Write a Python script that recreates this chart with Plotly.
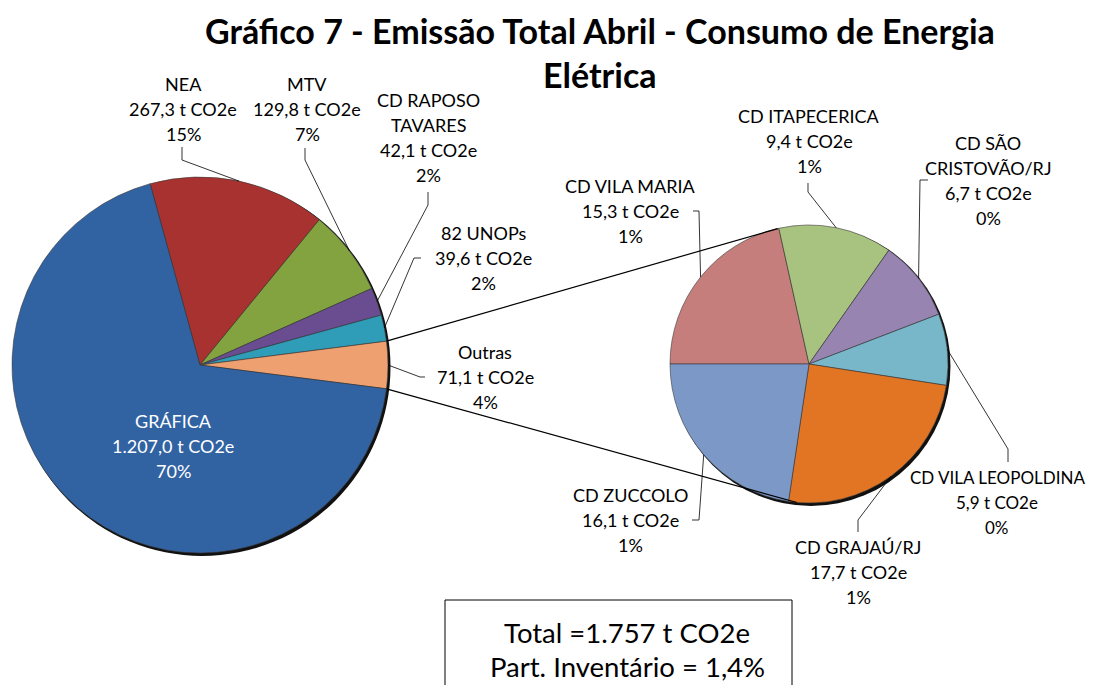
import math
import plotly.graph_objects as go

W, H = 1096, 693
OFF = 8  # page body margin
FW, FH = W - 2 * OFF, H - 2 * OFF  # figure fits the window exactly

# ---------------- data ----------------
main_labels = ["NEA", "MTV", "CD RAPOSO<br>TAVARES", "82 UNOPs", "Outras", "GRÁFICA"]
main_values = [267.3, 129.8, 42.1, 39.6, 71.1, 1207.0]
main_pcts = ["15%", "7%", "2%", "2%", "4%", "70%"]

sec_labels = ["CD VILA MARIA", "CD ITAPECERICA", "CD SÃO<br>CRISTOVÃO/RJ",
              "CD VILA LEOPOLDINA", "CD GRAJAÚ/RJ", "CD ZUCCOLO"]
sec_values = [15.3, 9.4, 6.7, 5.9, 17.7, 16.1]
sec_pcts = ["1%", "1%", "0%", "0%", "1%", "1%"]

participacao = "1,4%"

# ---------------- styles ----------------
main_colors = ["#A83230", "#82A33F", "#6A4D90", "#2F9CB8", "#EEA070", "#3163A3"]
sec_colors = ["#C67E7C", "#A8C27F", "#9884B0", "#78B6C9", "#E27524", "#7C98C6"]

FONT = "Lato, 'DejaVu Sans', sans-serif"
LBL_SIZE = 18
LINE_GAP = 25

# pie geometry in (screen) pixels
MC = (200, 365); MR = 188
SC = (809, 364); SR = 139


def X(px):
    return (px - OFF) / FW


def Y(py):
    return 1 - (py - OFF) / FH


def fmt_br(v, dec=1):
    s = f"{v:,.{dec}f}"
    return s.replace(",", "#").replace(".", ",").replace("#", ".")


def domain(c, r):
    return dict(x=[X(c[0] - r), X(c[0] + r)], y=[Y(c[1] + r), Y(c[1] - r)])


def pt(c, r, ang):
    a = math.radians(ang)
    return (c[0] + r * math.sin(a), c[1] - r * math.cos(a))


main_total = sum(main_values)
oi = 4  # index of "Outras"
before = sum(main_values[:oi])
main_rot = 90 - (before + main_values[oi] / 2) / main_total * 360
sec_rot = 270


def slice_angles(values, rot):
    tot = sum(values)
    out = []
    cur = rot
    for v in values:
        span = v / tot * 360
        out.append((cur, cur + span))
        cur += span
    return out


main_ang = slice_angles(main_values, main_rot)
sec_ang = slice_angles(sec_values, sec_rot)

fig = go.Figure()

fig.add_trace(go.Pie(
    labels=[l.replace("<br>", " ") for l in main_labels], values=main_values,
    sort=False, direction="clockwise", rotation=main_rot,
    marker=dict(colors=main_colors, line=dict(color="#3a3a3a", width=0.6)),
    textinfo="none", domain=domain(MC, MR), showlegend=False, hoverinfo="label+value+percent",
))
fig.add_trace(go.Pie(
    labels=[l.replace("<br>", " ") for l in sec_labels], values=sec_values,
    sort=False, direction="clockwise", rotation=sec_rot,
    marker=dict(colors=sec_colors, line=dict(color="#3a3a3a", width=0.6)),
    textinfo="none", domain=domain(SC, SR), showlegend=False, hoverinfo="label+value+percent",
))

shapes = []
# shadows behind pies
for c, r in [(MC, MR), (SC, SR)]:
    shapes.append(dict(type="circle", xref="paper", yref="paper", layer="below",
                       x0=X(c[0] - r + 1.5), x1=X(c[0] + r + 2.5),
                       y0=Y(c[1] + r + 3), y1=Y(c[1] - r + 1),
                       fillcolor="#111111", line=dict(width=0)))

# connector lines between the pies
o_start, o_end = main_ang[oi]
p1 = pt(MC, MR, o_start)
p2 = pt(MC, MR, o_end)
q1 = pt(SC, SR, -13)
q2 = pt(SC, SR, 185)
for a, b in [(p1, q1), (p2, q2)]:
    shapes.append(dict(type="line", xref="paper", yref="paper",
                       x0=X(a[0]), y0=Y(a[1]), x1=X(b[0]), y1=Y(b[1]),
                       line=dict(color="black", width=1.2)))

annotations = []


def add_lines(lines, cx, y0, color="black", size=LBL_SIZE, gap=LINE_GAP, bold=False):
    for i, t in enumerate(lines):
        annotations.append(dict(
            text=f"<b>{t}</b>" if bold else t, x=X(cx), y=Y(y0 + i * gap),
            xref="paper", yref="paper", xanchor="center", yanchor="middle",
            showarrow=False, font=dict(family=FONT, size=size, color=color)))


def leader(points, c, r, ang):
    end = pt(c, r, ang)
    allp = list(points) + [end]
    path = "M " + " L ".join(f"{X(p[0]):.5f},{Y(p[1]):.5f}" for p in allp)
    shapes.append(dict(type="path", xref="paper", yref="paper", path=path,
                       line=dict(color="black", width=0.8)))


# label placement: (center x, first line y, leader points, font size)
main_place = [
    (183, 84, [(182, 147), (182, 160)], LBL_SIZE),
    (307, 84, [(305, 148), (305, 160)], LBL_SIZE),
    (428, 100, [(428, 192), (428, 205)], LBL_SIZE),
    (483, 233, [(421, 258), (414, 258)], LBL_SIZE),
    (485, 352, [(425, 377), (420, 377)], LBL_SIZE),
    (173, 421, None, LBL_SIZE),
]
sec_place = [
    (630, 186, [(693, 211), (699, 211)], LBL_SIZE),
    (809, 116, [(808, 183), (808, 192)], LBL_SIZE),
    (988, 143, [(928, 180), (920, 180)], LBL_SIZE),
    (997, 477, [(1008, 462), (1008, 449)], 17),
    (858, 547, [(858, 532), (858, 520)], LBL_SIZE),
    (630, 495, [(692, 520), (699, 520)], LBL_SIZE),
]

for i, (lab, v, p) in enumerate(zip(main_labels, main_values, main_pcts)):
    cx, y0, lp, fs = main_place[i]
    lines = lab.split("<br>") + [f"{fmt_br(v)} t CO2e", p]
    color = "white" if lp is None else "black"
    add_lines(lines, cx, y0, color=color, size=fs)
    if lp:
        a0, a1 = main_ang[i]
        leader(lp, MC, MR, (a0 + a1) / 2)

for i, (lab, v, p) in enumerate(zip(sec_labels, sec_values, sec_pcts)):
    cx, y0, lp, fs = sec_place[i]
    lines = lab.split("<br>") + [f"{fmt_br(v)} t CO2e", p]
    add_lines(lines, cx, y0, size=fs)
    a0, a1 = sec_ang[i]
    leader(lp, SC, SR, (a0 + a1) / 2)

# title
add_lines(["Gráfico 7 - Emissão Total Abril - Consumo de Energia", "Elétrica"],
          600, 30, size=34, gap=44, bold=True)

# total box
total_txt = format(round(main_total), ",").replace(",", ".")
shapes.append(dict(type="rect", xref="paper", yref="paper",
                   x0=X(445), x1=X(792), y0=Y(710), y1=Y(600),
                   line=dict(color="black", width=1), fillcolor="white"))
add_lines([f"Total ={total_txt} t CO2e",
           f"Part. Inventário = {participacao}"], 627, 632, size=27.5, gap=34)

fig.update_layout(
    width=FW, height=FH, margin=dict(l=0, r=0, t=0, b=0),
    paper_bgcolor="white", plot_bgcolor="white",
    shapes=shapes, annotations=annotations, showlegend=False,
)

fig.write_html("out.html")
